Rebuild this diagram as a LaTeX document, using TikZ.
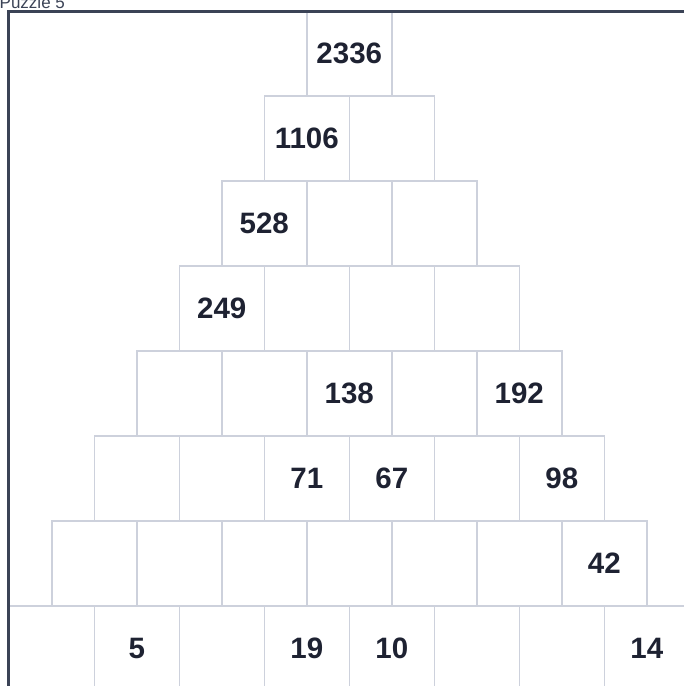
\documentclass[tikz,border=0pt]{standalone}
\usepackage{fontspec}
\setmainfont{Liberation Sans}
\usetikzlibrary{positioning}
\definecolor{cGrid}{HTML}{CDD1DC}
\definecolor{cFrame}{HTML}{3B4356}
\definecolor{cInk}{HTML}{1E2232}
\tikzset{
  brick/.style={draw=cGrid,line width=1.6pt,minimum width=85pt,minimum height=85pt,
                inner sep=0pt,anchor=north west},
  val/.style={font=\fontsize{29.5}{32}\selectfont\bfseries,text=cInk},
  frame/.style={draw=cFrame,line width=3pt},
  title/.style={font=\fontsize{17}{19}\selectfont,text=cFrame,inner sep=0pt,anchor=base west}
}
\begin{document}
\begin{tikzpicture}[x=1pt,y=-1pt]
  \useasboundingbox (0,0) rectangle (684,686);
  \clip (0,0) rectangle (684,686);
  % pyramid of bricks, row r has r+1 cells
  \foreach \r in {0,...,7} {
    \foreach \c in {0,...,\r} {
      \node[brick] (c-\r-\c) at ({306-42.5*\r+85*\c},{10+85*\r}) {};
    }
  }
  % given values
  \node[val] at (c-0-0) {2336};
  \node[val] at (c-1-0) {1106};
  \node[val] at (c-2-0) {528};
  \node[val] at (c-3-0) {249};
  \node[val] at (c-4-2) {138};
  \node[val] at (c-4-4) {192};
  \node[val] at (c-5-2) {71};
  \node[val] at (c-5-3) {67};
  \node[val] at (c-5-5) {98};
  \node[val] at (c-6-6) {42};
  \node[val] at (c-7-1) {5};
  \node[val] at (c-7-3) {19};
  \node[val] at (c-7-4) {10};
  \node[val] at (c-7-7) {14};
  % frame and caption
  \draw[frame] (700,11) -- (8,11) -- (8,700);
  \node[title] (cap) at (-0.5,8.5) {Puzzle 5};
\end{tikzpicture}
\end{document}
